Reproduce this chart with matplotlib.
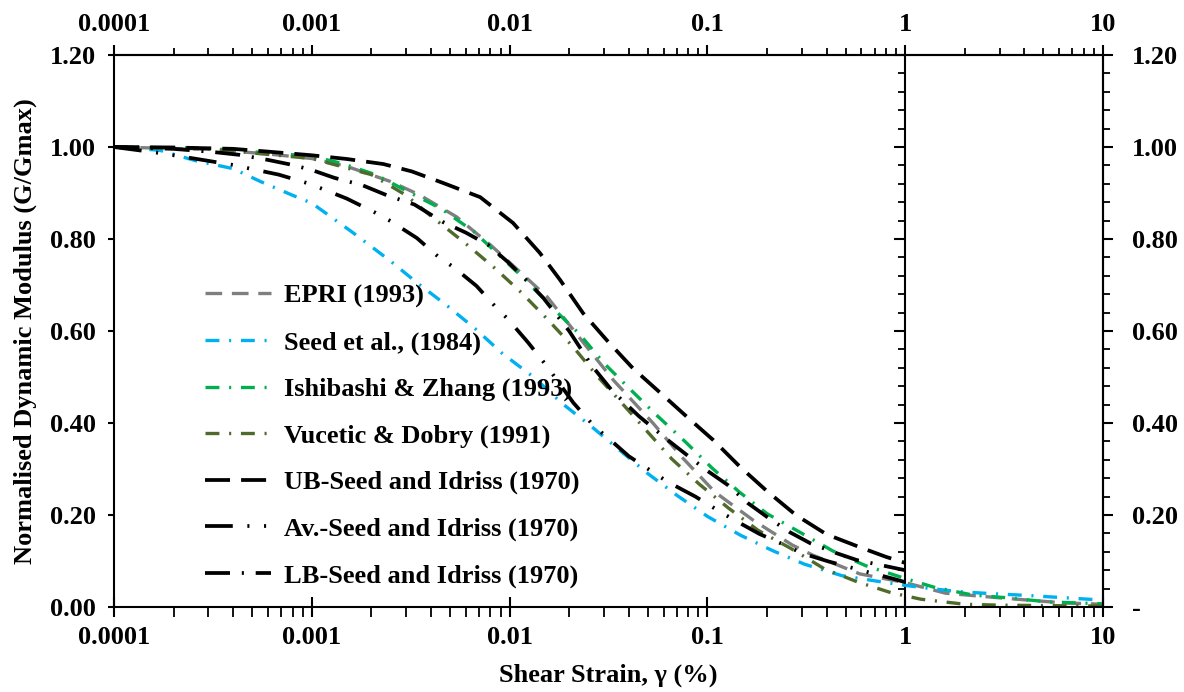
import matplotlib
matplotlib.use('Agg')
import matplotlib.pyplot as plt
from matplotlib.ticker import FixedLocator, MultipleLocator, FuncFormatter, NullFormatter, LogLocator

plt.rcParams['font.family'] = 'Liberation Serif'
plt.rcParams['font.weight'] = 'bold'
plt.rcParams['lines.scale_dashes'] = False

# Shear strain (%) and G/Gmax
epri_x = [1e-4, 3e-4, 6e-4, 1e-3, 1.5e-3, 2.5e-3, 3.5e-3, 5.4e-3, 8.2e-3, 0.0155, 0.0246, 0.0335,
          0.053, 0.075, 0.109, 0.17, 0.268, 0.34, 0.59, 1.0, 1.6, 3.0, 6.3, 10]
epri_g = [1.0, 0.995, 0.985, 0.975, 0.958, 0.925, 0.896, 0.848, 0.783, 0.674, 0.565, 0.493,
          0.4, 0.324, 0.25, 0.189, 0.135, 0.113, 0.072, 0.053, 0.03, 0.02, 0.009, 0.006]

seed84_x = [1e-4, 1.7e-4, 2.6e-4, 4e-4, 5.5e-4, 8e-4, 1e-3, 1.6e-3, 2.5e-3, 3.4e-3, 4.8e-3, 6.7e-3,
            9.2e-3, 0.0132, 0.0185, 0.026, 0.036, 0.05, 0.07, 0.1, 0.147, 0.215, 0.31, 0.48, 0.7,
            1.0, 1.3, 1.8, 2.5, 4.2, 10]
seed84_g = [1.0, 0.993, 0.97, 0.953, 0.925, 0.895, 0.878, 0.815, 0.752, 0.705, 0.656, 0.605,
            0.551, 0.5, 0.442, 0.392, 0.341, 0.29, 0.243, 0.197, 0.156, 0.122, 0.093, 0.068, 0.057,
            0.047, 0.041, 0.034, 0.03, 0.025, 0.015]

ishi_x = [1e-4, 3e-4, 1e-3, 1.4e-3, 2.1e-3, 3e-3, 4.5e-3, 6.6e-3, 0.0124, 0.0165, 0.0225, 0.03,
          0.041, 0.056, 0.077, 0.105, 0.145, 0.2, 0.295, 0.43, 0.63, 1.0, 1.4, 2.2, 3.3, 5.3, 10]
ishi_g = [1.0, 0.997, 0.98, 0.965, 0.94, 0.905, 0.866, 0.816, 0.706, 0.65, 0.594, 0.53,
          0.472, 0.415, 0.36, 0.303, 0.25, 0.203, 0.162, 0.122, 0.09, 0.062, 0.043, 0.026, 0.02, 0.011, 0.007]

vuc_x = [1e-4, 3e-4, 1e-3, 2e-3, 3e-3, 4e-3, 6e-3, 8.5e-3, 0.0115, 0.0155, 0.021, 0.028, 0.037,
         0.05, 0.066, 0.091, 0.127, 0.18, 0.265, 0.39, 0.57, 0.85, 1.2, 2.0, 3.0, 10]
vuc_g = [1.0, 0.996, 0.975, 0.94, 0.895, 0.85, 0.79, 0.735, 0.683, 0.626, 0.565, 0.5, 0.443,
         0.38, 0.322, 0.267, 0.216, 0.167, 0.127, 0.083, 0.055, 0.031, 0.017, 0.006, 0.004, 0.002]

ub_x = [1e-4, 2e-4, 4e-4, 6e-4, 1e-3, 1.5e-3, 2.3e-3, 3.2e-3, 4.6e-3, 7.1e-3, 0.0104, 0.0142,
        0.018, 0.0235, 0.031, 0.042, 0.058, 0.079, 0.107, 0.146, 0.2, 0.28, 0.4, 0.59, 0.8, 1.0]
ub_g = [1.0, 0.999, 0.996, 0.99, 0.982, 0.974, 0.963, 0.947, 0.922, 0.891, 0.835, 0.77,
        0.711, 0.639, 0.58, 0.519, 0.465, 0.413, 0.363, 0.305, 0.252, 0.2, 0.158, 0.13, 0.109, 0.096]

av_x = [1e-4, 1.7e-4, 2.8e-4, 4e-4, 5e-4, 6.8e-4, 9.4e-4, 1.1e-3, 1.5e-3, 2.1e-3, 2.5e-3, 3.4e-3,
        4.4e-3, 5.2e-3, 6.8e-3, 8.6e-3, 9.8e-3, 0.0124, 0.0154, 0.021, 0.027, 0.031, 0.04, 0.054,
        0.063, 0.087, 0.116, 0.137, 0.183, 0.26, 0.3, 0.41, 0.62, 0.86, 1.0]
av_g = [1.0, 0.987, 0.972, 0.961, 0.952, 0.94, 0.922, 0.911, 0.888, 0.857, 0.839, 0.802,
        0.76, 0.739, 0.698, 0.65, 0.626, 0.575, 0.524, 0.444, 0.391, 0.37, 0.328, 0.291,
        0.272, 0.24, 0.207, 0.189, 0.159, 0.13, 0.117, 0.099, 0.078, 0.062, 0.054]

lb_x = [1e-4, 2e-4, 3.2e-4, 4.3e-4, 6e-4, 8e-4, 1e-3, 1.3e-3, 1.8e-3, 2.4e-3, 3.3e-3, 4.6e-3,
        6e-3, 7.8e-3, 9.8e-3, 0.012, 0.0148, 0.02, 0.026, 0.033, 0.045, 0.063, 0.079, 0.1,
        0.127, 0.16, 0.2, 0.26, 0.33, 0.45, 0.57, 1.0]
lb_g = [1.0, 0.996, 0.989, 0.983, 0.972, 0.961, 0.95, 0.933, 0.917, 0.895, 0.875, 0.837,
        0.814, 0.787, 0.75, 0.713, 0.672, 0.6, 0.525, 0.47, 0.415, 0.363, 0.33, 0.296,
        0.265, 0.226, 0.196, 0.163, 0.139, 0.117, 0.102, 0.08]

y_ticks = [0.0, 0.2, 0.4, 0.6, 0.8, 1.0, 1.2]
x_ticks = [1e-4, 1e-3, 1e-2, 1e-1, 1, 10]

FS = 19

fig = plt.figure(figsize=(11.84, 6.92), dpi=100)
ax = fig.add_axes([0.0963, 0.1228, 0.8353, 0.7977])

dashdot = (0, (10, 7, 1.5, 7))
ax.plot(epri_x, epri_g, color='#7f7f7f', lw=2.4, dashes=(12, 7), label='EPRI (1993)')
ax.plot(seed84_x, seed84_g, color='#00b0f0', lw=2.4, linestyle=dashdot, label='Seed et al., (1984)')
ax.plot(ishi_x, ishi_g, color='#00b050', lw=2.4, linestyle=dashdot, label='Ishibashi & Zhang (1993)')
ax.plot(vuc_x, vuc_g, color='#4f6a2a', lw=2.4, linestyle=dashdot, label='Vucetic & Dobry (1991)')
ax.plot(ub_x, ub_g, color='black', lw=2.7, dashes=(18, 8), label='UB-Seed and Idriss (1970)')
ax.plot(av_x, av_g, color='black', lw=2.7, linestyle=(0, (20, 10.5, 1.5, 10.5, 1.5, 10.5)),
        label='Av.-Seed and Idriss (1970)')
ax.plot(lb_x, lb_g, color='black', lw=2.7, linestyle=(0, (18, 8.5, 1.5, 8.5)),
        label='LB-Seed and Idriss (1970)')

ax.set_xscale('log')
ax.set_xlim(1e-4, 10)
ax.set_ylim(0, 1.2)
for s in ax.spines.values():
    s.set_linewidth(1.5)

fmt_x = FuncFormatter(lambda v, p: f'{v:g}')
ax.xaxis.set_major_locator(FixedLocator(x_ticks))
ax.xaxis.set_major_formatter(fmt_x)
ax.xaxis.set_minor_locator(LogLocator(base=10, subs=range(2, 10)))
ax.xaxis.set_minor_formatter(NullFormatter())
ax.tick_params(axis='x', which='major', direction='inout', length=14, width=1.5, labelsize=FS, pad=7)
ax.tick_params(axis='x', which='minor', direction='out', length=7, width=1.3)

ax.yaxis.set_major_locator(FixedLocator(y_ticks))
ax.yaxis.set_major_formatter(FuncFormatter(lambda v, p: f'{v:.2f}'))
ax.tick_params(axis='y', which='major', direction='out', length=4, width=1.5, labelsize=FS, pad=9)

# top axis
top = ax.secondary_xaxis('top')
top.xaxis.set_major_locator(FixedLocator(x_ticks))
top.xaxis.set_major_formatter(fmt_x)
top.xaxis.set_minor_locator(LogLocator(base=10, subs=range(2, 10)))
top.xaxis.set_minor_formatter(NullFormatter())
top.tick_params(axis='x', which='major', direction='out', length=7, width=1.5, labelsize=FS, pad=7)
top.tick_params(axis='x', which='minor', direction='out', length=5, width=1.3)
top.spines['top'].set_linewidth(1.5)

# right axis
right = ax.secondary_yaxis('right')
right.yaxis.set_major_locator(FixedLocator(y_ticks))
right.yaxis.set_major_formatter(FuncFormatter(lambda v, p: '-' if v == 0 else f'{v:.2f}'))
right.yaxis.set_minor_locator(MultipleLocator(0.04))
right.tick_params(axis='y', which='major', direction='out', length=7, width=1.5, labelsize=FS, pad=14)
right.tick_params(axis='y', which='minor', direction='out', length=5, width=1.3)
right.spines['right'].set_linewidth(1.5)

# vertical axis line at strain = 1 %
mid = ax.secondary_yaxis(0.8)
mid.yaxis.set_major_locator(FixedLocator(y_ticks))
mid.yaxis.set_major_formatter(NullFormatter())
mid.yaxis.set_minor_locator(MultipleLocator(0.04))
mid.tick_params(axis='y', which='major', direction='in', length=8, width=1.5)
mid.tick_params(axis='y', which='minor', direction='in', length=5, width=1.3)
mid.spines['right'].set_linewidth(1.5)

ax.set_xlabel('Shear Strain, γ (%)', fontsize=FS, fontweight='bold', labelpad=10)
ax.set_ylabel('Normalised Dynamic Modulus (G/Gmax)', fontsize=FS, fontweight='bold', labelpad=9)

ax.legend(loc='upper left', bbox_to_anchor=(0.092, 0.585), frameon=False, handlelength=2.5,
          handletextpad=0.5, labelspacing=0.86, borderpad=0, borderaxespad=0,
          prop={'size': FS, 'weight': 'bold'})

fig.savefig('out.png', dpi=100, facecolor='white')
